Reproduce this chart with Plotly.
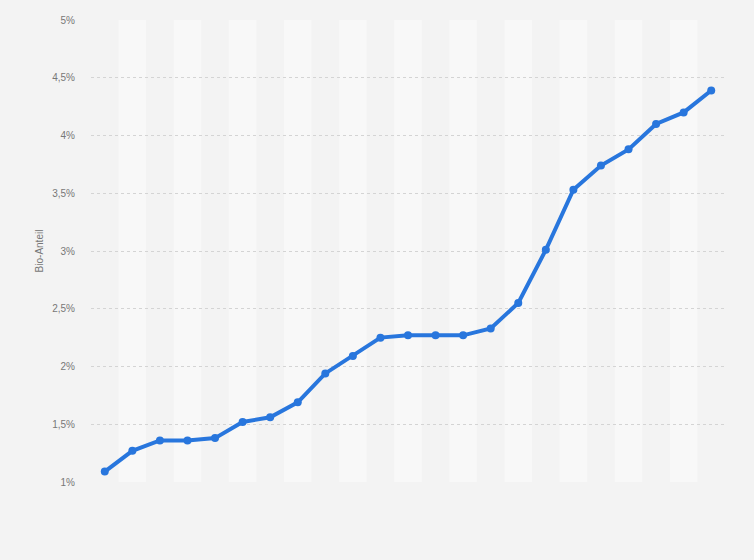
import plotly.graph_objects as go

categories = list(range(1, 24))
values = [1.09, 1.27, 1.36, 1.36, 1.38, 1.52, 1.56, 1.69, 1.94, 2.09, 2.25, 2.27,
          2.27, 2.27, 2.33, 2.55, 3.01, 3.53, 3.74, 3.88, 4.10, 4.20, 4.39]
tick_vals = [1, 1.5, 2, 2.5, 3, 3.5, 4, 4.5, 5]
tick_text = ["1%", "1,5%", "2%", "2,5%", "3%", "3,5%", "4%", "4,5%", "5%"]

fig = go.Figure()
fig.add_trace(go.Scatter(
    x=categories, y=values, mode="lines+markers",
    line=dict(color="#2876dd", width=4),
    marker=dict(color="#2876dd", size=8),
    hoverinfo="skip", showlegend=False,
))

shapes = []
for i, c in enumerate(categories):
    if i % 2 == 1:
        shapes.append(dict(type="rect", xref="x", yref="paper",
                           x0=c - 0.5, x1=c + 0.5, y0=0, y1=1,
                           fillcolor="#f8f8f8", line=dict(width=0), layer="below"))

fig.update_layout(
    width=754, height=560,
    margin=dict(l=91, r=29, t=20, b=78),
    paper_bgcolor="#f3f3f3", plot_bgcolor="#f3f3f3",
    shapes=shapes,
    font=dict(family="Liberation Sans, Arial, sans-serif", color="#777777", size=10),
    xaxis=dict(range=[0.5, 23.5], showticklabels=False, showgrid=False,
               zeroline=False, showline=False, ticks=""),
    yaxis=dict(range=[1, 5], tickvals=tick_vals, ticktext=tick_text,
               showgrid=True, gridcolor="#d4d4d4", griddash="dot", gridwidth=1,
               zeroline=False, showline=False, ticks="", ticklabelstandoff=15,
               tickfont=dict(size=10, color="#777777"),
               title=dict(text="Bio-Anteil", font=dict(size=10, color="#777777"), standoff=6)),
)

fig.write_html("out.html", config={"displayModeBar": False},
               post_script="document.body.style.margin='0';document.body.style.background='#f3f3f3';")
